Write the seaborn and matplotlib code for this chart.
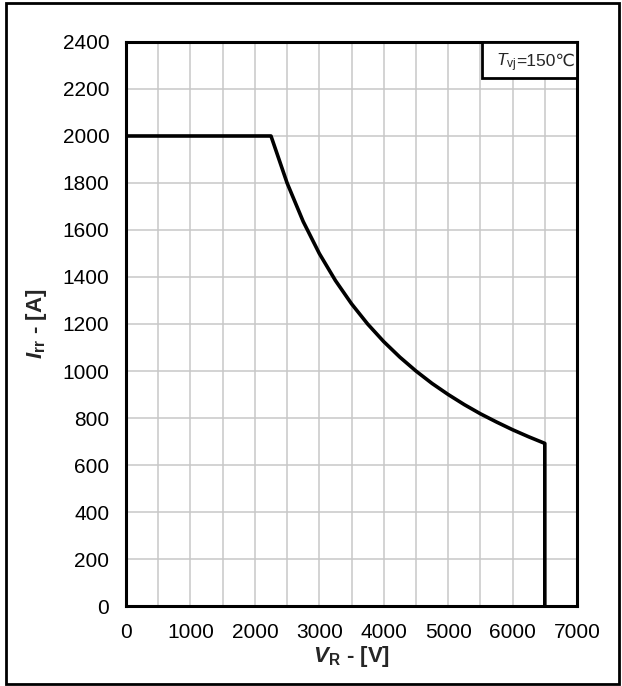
import matplotlib
matplotlib.use("Agg")
import matplotlib.pyplot as plt
from matplotlib.patches import Rectangle
from matplotlib.ticker import MultipleLocator
import seaborn as sns
import pandas as pd

# Reverse recovery safe operating area, Tvj = 150 °C
v_r = [0, 2250, 2500, 2750, 3000, 3250, 3500, 3750, 4000, 4250, 4500, 4750,
       5000, 5250, 5500, 5750, 6000, 6250, 6500, 6500]
i_rr = [2000, 2000, 1800, 1636, 1500, 1385, 1286, 1200, 1125, 1059, 1000, 947,
        900, 857, 818, 783, 750, 720, 692, 0]
x_ticks = [0, 1000, 2000, 3000, 4000, 5000, 6000, 7000]
y_ticks = [0, 200, 400, 600, 800, 1000, 1200, 1400, 1600, 1800, 2000, 2200, 2400]

sns.set_style("white")
plt.rcParams["font.family"] = ["Liberation Sans", "DejaVu Sans"]
plt.rcParams["mathtext.fontset"] = "custom"
plt.rcParams["mathtext.rm"] = "Liberation Sans"
plt.rcParams["mathtext.it"] = "Liberation Sans:italic"
plt.rcParams["mathtext.bf"] = "Liberation Sans:bold"
plt.rcParams["mathtext.bfit"] = "Liberation Sans:italic:bold"

df = pd.DataFrame({"V_R": v_r, "I_rr": i_rr})

fig = plt.figure(figsize=(6.22, 6.86), dpi=100)
ax = fig.add_axes([0.2026, 0.1166, 0.7251, 0.8222])

sns.lineplot(data=df, x="V_R", y="I_rr", sort=False, estimator=None,
             color="black", linewidth=2.6, ax=ax, zorder=3)

ax.set_xlim(0, 7000)
ax.set_ylim(0, 2400)
ax.set_xticks(x_ticks)
ax.set_yticks(y_ticks)
ax.xaxis.set_minor_locator(MultipleLocator(500))
ax.grid(which="both", axis="x", color="#c8c8c8", linewidth=1.1)
ax.grid(which="major", axis="y", color="#c8c8c8", linewidth=1.1)
ax.set_axisbelow(True)
ax.tick_params(axis="both", which="both", length=0, labelsize=15, colors="black")
ax.tick_params(axis="x", pad=12)
ax.tick_params(axis="y", pad=12)
for s in ax.spines.values():
    s.set_color("black")
    s.set_linewidth(2.2)

ax.set_xlabel(r"$\mathbfit{V}_{\mathbf{R}}$ - [V]", fontsize=16,
              fontweight="bold", labelpad=2)
ax.set_ylabel(r"$\mathbfit{I}_{\mathbf{rr}}$ - [A]", fontsize=16,
              fontweight="bold", labelpad=10)

# Temperature condition box in the upper-right corner
box_w, box_h = 0.2106, 0.0640
ax.add_patch(Rectangle((1 - box_w, 1 - box_h), box_w, box_h,
                       transform=ax.transAxes, facecolor="white",
                       edgecolor="black", linewidth=2, zorder=5, clip_on=False))
base_y = 1 - box_h / 2 - 0.011
t_sym = ax.text(1 - box_w + 0.03, base_y, r"$\mathit{T}_{\mathrm{vj}}$",
                transform=ax.transAxes, ha="left", va="baseline", fontsize=12.5,
                zorder=6)
fig.canvas.draw()
right_px = t_sym.get_window_extent().x1
right_ax = ax.transAxes.inverted().transform((right_px, 0))[0]
ax.text(right_ax, base_y, "=150℃", transform=ax.transAxes, ha="left",
        va="baseline", fontsize=12.5, zorder=6)

# Outer frame around the whole figure
fig.patches.append(Rectangle((6 / 622, 2 / 686), 613 / 622, 681 / 686,
                             transform=fig.transFigure, fill=False,
                             edgecolor="black", linewidth=2))

fig.savefig("out.png", dpi=100, facecolor="white")
